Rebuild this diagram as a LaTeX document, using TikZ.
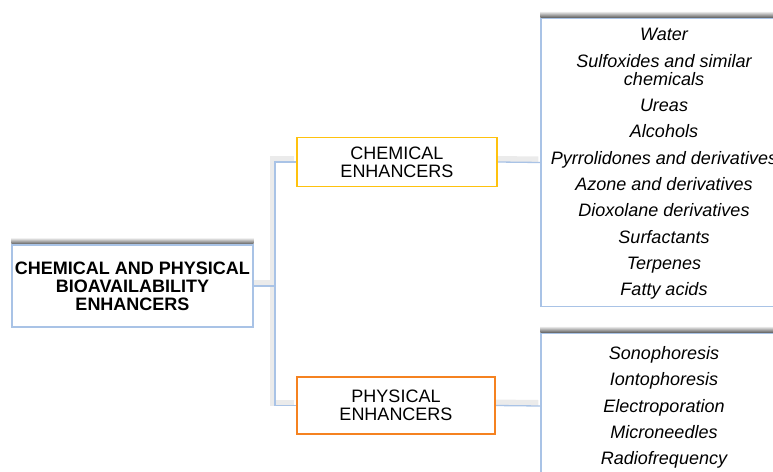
\documentclass[tikz,border=0pt]{standalone}
\usepackage{fontspec}
\setmainfont{Liberation Sans}
\usetikzlibrary{backgrounds}
\definecolor{frame}{HTML}{A9C3E6}
\definecolor{chemcol}{HTML}{FFC20E}
\definecolor{physcol}{HTML}{F58220}
\tikzset{
  box/.style={draw=frame, line width=1.2pt, fill=white, align=center, inner sep=0pt,
    font=\fontsize{18}{18}\selectfont},
  mainbox/.style={box, font=\bfseries\fontsize{18}{18}\selectfont,
    minimum width=241pt, minimum height=82pt},
  catbox/.style={box, line width=1.4pt},
  listbox/.style={box, minimum width=246pt},
  items/.style={font=\itshape\fontsize{18}{18}\selectfont, align=center},
  link/.style={draw=frame, line width=1.3pt},
  linkshade/.style={draw=black!8, line width=6pt, transform canvas={shift={(-2pt,3pt)}}},
}
\newcommand{\topshade}[1]{%
  \shade[top color=white, bottom color=black!60]
    ([yshift=0.6pt]#1.north west) rectangle ([yshift=7pt]#1.north east);}

\begin{document}
\begin{tikzpicture}[x=1pt, y=-1pt]
  \useasboundingbox (0,0) rectangle (773,471);
  \clip (0,0) rectangle (773,471);

  \node[mainbox] (main) at (132.5,286) {CHEMICAL AND PHYSICAL\\BIOAVAILABILITY\\ENHANCERS};
  \node[catbox, draw=chemcol, minimum width=200pt, minimum height=49pt] (chem) at (397,162) {CHEMICAL\\ENHANCERS};
  \node[catbox, draw=physcol, minimum width=198pt, minimum height=57pt] (phys) at (396,405.5) {PHYSICAL\\ENHANCERS};

  \node[listbox, minimum height=288pt] (chemlist) at (664,162.5) {};
  \node[items] (chemitems) at (664,164)
    {Water\\[8.3pt]Sulfoxides and similar\\chemicals\\[8.3pt]Ureas\\[8.3pt]Alcohols\\[8.3pt]%
    Pyrrolidones and derivatives\\[8.3pt]Azone and derivatives\\[8.3pt]Dioxolane derivatives\\[8.3pt]%
    Surfactants\\[8.3pt]Terpenes\\[8.3pt]Fatty acids};
  \node[listbox, minimum height=145pt] (physlist) at (664,406) {};
  \node[items] (physitems) at (664,407.5)
    {Sonophoresis\\[8.3pt]Iontophoresis\\[8.3pt]Electroporation\\[8.3pt]%
    Microneedles\\[8.3pt]Radiofrequency};

  \topshade{main}
  \topshade{chemlist}
  \topshade{physlist}

  % connectors behind the boxes
  \coordinate (fork) at (275,286);
  \begin{scope}[on background layer]
    \draw[linkshade] (main.east) -- (fork) |- (chem.west);
    \draw[linkshade] (fork) |- (phys.west);
    \draw[linkshade] (chem.east) -- (chemlist.west);
    \draw[linkshade] (phys.east) -- (physlist.west);
    \draw[link] (main.east) -- (fork) |- (chem.west);
    \draw[link] (fork) |- (phys.west);
    \draw[link] (chem.east) -- (chemlist.west);
    \draw[link] (phys.east) -- (physlist.west);
  \end{scope}
\end{tikzpicture}
\end{document}
